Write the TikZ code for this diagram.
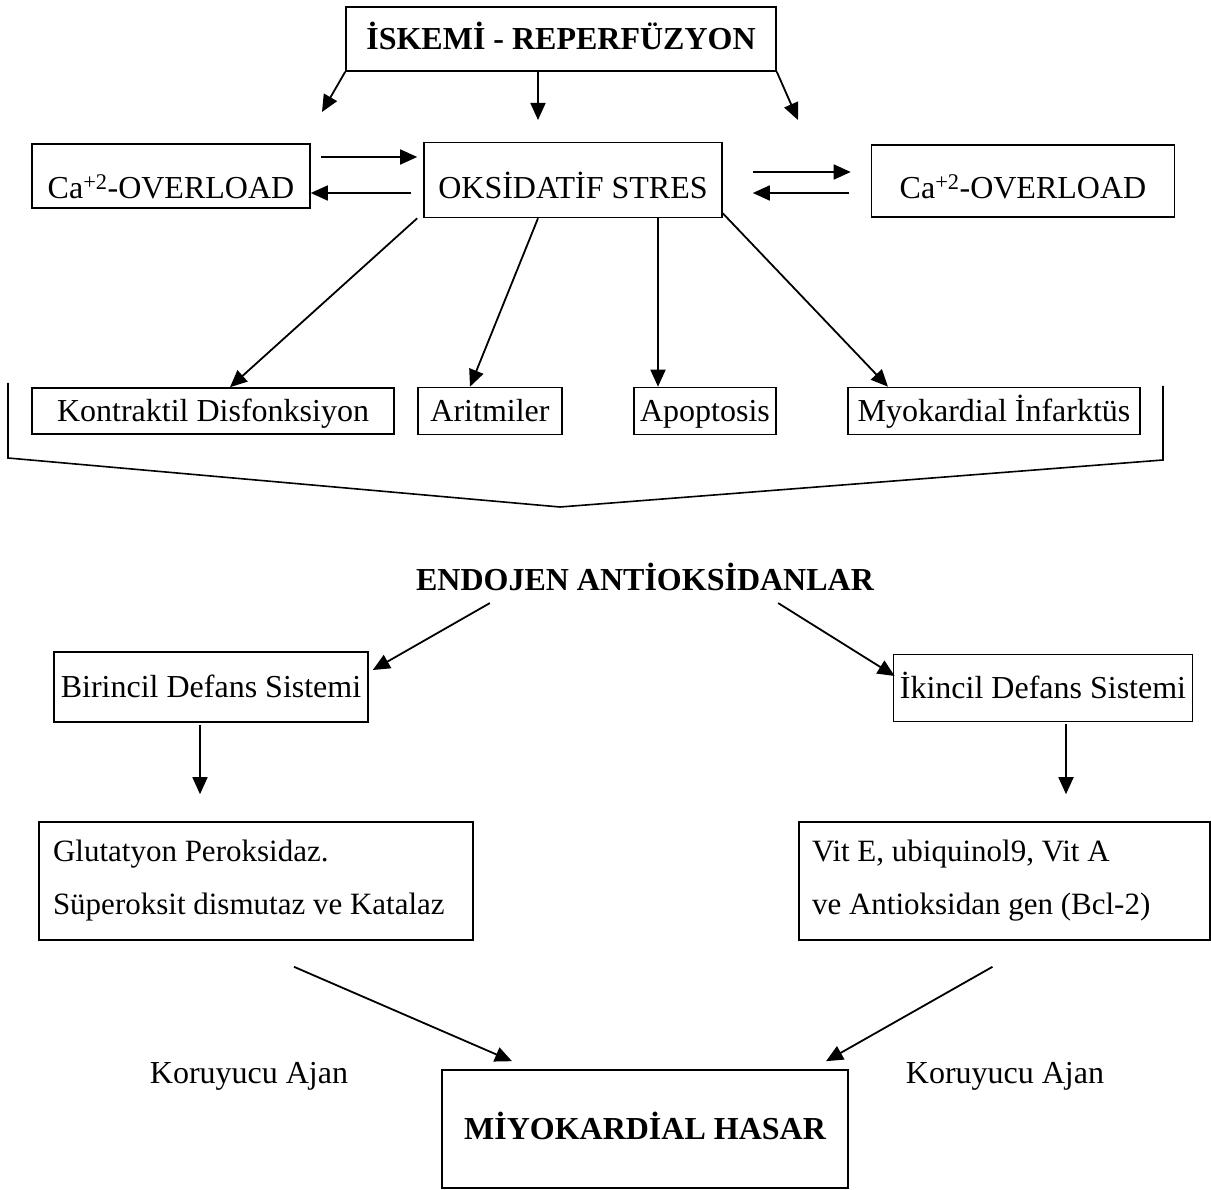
\documentclass[tikz,border=0pt]{standalone}
\usepackage{fontspec}
\setmainfont{Liberation Serif}
\usetikzlibrary{arrows.meta}

\tikzset{
	box/.style={draw, line width=1.6pt, inner sep=0pt, font=\fontsize{32}{38}\selectfont},
	sbox/.style={box, text height=25pt, text depth=4pt},
	tbox/.style={box, text depth=0pt, text height=#1},
	mbox/.style={box, minimum height=118pt, align=flush left, font=\fontsize{31}{53}\selectfont},
	txt/.style={inner sep=0pt, font=\fontsize{32}{38}\selectfont},
	arr/.style={-{Triangle[length=17pt,width=15pt]}, line width=1.8pt},
}

\begin{document}
\begin{tikzpicture}[x=1pt, y=-1pt]
		\useasboundingbox (0,0) rectangle (1211,1190);
		
		%Top
		\node[sbox, minimum width=430pt, minimum height=64pt, font=\fontsize{32}{38}\selectfont\bfseries] (isk) at (561,39) {İSKEMİ - REPERFÜZYON};
		\coordinate (t1) at (322,112);
		\coordinate (t2) at (538,120);
		\coordinate (t3) at (798,120);
		\draw[arr] (isk.south west) -- (t1);
		\draw[arr] ([xshift=-23pt]isk.south) -- (t2);
		\draw[arr] (isk.south east) -- (t3);
		
		%Second row
		\node[tbox=46pt, minimum width=278pt, minimum height=64pt] (cal) at (171,176) {Ca\textsuperscript{+2}-OVERLOAD};
		\node[tbox=37pt, minimum width=298pt, minimum height=75pt] (oks) at (573,180) {OKSİDATİF STRES};
		\node[tbox=36pt, minimum width=303pt, minimum height=72pt] (car) at (1023,181) {Ca\textsuperscript{+2}-OVERLOAD};
		
		\draw[arr] ([xshift=10pt,yshift=19pt]cal.east) -- ([xshift=-6pt,yshift=23pt]oks.west);
		\draw[arr] ([xshift=-12pt,yshift=-13pt]oks.west) -- ([xshift=0pt,yshift=-17pt]cal.east);
		\draw[arr] ([xshift=30pt,yshift=8pt]oks.east) -- ([xshift=-20pt,yshift=9pt]car.west);
		\draw[arr] ([xshift=-22pt,yshift=-12pt]car.west) -- ([xshift=30pt,yshift=-13pt]oks.east);
		
		%Third row
		\node[sbox, minimum width=362pt, minimum height=46pt] (kon) at (213,411) {Kontraktil Disfonksiyon};
		\node[sbox, minimum width=144pt, minimum height=47pt] (ari) at (490,411) {Aritmiler};
		\node[sbox, minimum width=142pt, minimum height=47pt] (apo) at (705,411) {Apoptosis};
		\node[sbox, minimum width=292pt, minimum height=47pt] (myo) at (994,411) {Myokardial İnfarktüs};
		
		\draw[arr] ([xshift=-6pt]oks.south west) -- ([xshift=17pt]kon.north);
		\draw[arr] ([xshift=-35pt]oks.south) -- ([xshift=-20pt]ari.north);
		\draw[arr] ([xshift=85pt]oks.south) -- ([xshift=85pt]oks.south |- apo.north);
		\draw[arr] ([yshift=5pt]oks.south east) -- ([xshift=-106pt]myo.north);
		
		%Bracket
		\coordinate (tip) at (560,507);
		\draw[line width=1.6pt] (8,383) -- (8,458) -- (tip) -- (1163,460) -- (1163,386);
		
		%Endojen
		\node[txt, font=\fontsize{32}{38}\selectfont\bfseries] (endo) at (645,577) {ENDOJEN ANTİOKSİDANLAR};
		\node[sbox, minimum width=314pt, minimum height=70pt] (bir) at (211,687) {Birincil Defans Sistemi};
		\node[sbox, minimum width=299pt, minimum height=67pt] (iki) at (1043,688) {İkincil Defans Sistemi};
		
		\draw[arr] ([xshift=74pt,yshift=-12pt]endo.south west) -- ([xshift=4pt,yshift=17pt]bir.east);
		\draw[arr] ([xshift=-96pt,yshift=-12pt]endo.south east) -- ([xshift=2pt,yshift=12pt]iki.west);
		
		%Defans
		\node[mbox, minimum width=434pt, text width=406pt] (glu) at (256,881) {Glutatyon Peroksidaz.\\Süperoksit dismutaz ve Katalaz};
		\node[mbox, minimum width=411pt, text width=385pt] (vit) at (1004.5,881) {Vit E, ubiquinol9, Vit A\\ve Antioksidan gen (Bcl-2)};
		
		\draw[arr] ([xshift=-11pt,yshift=-2pt]bir.south) -- ([xshift=-11pt,yshift=27pt]bir.south |- glu.north);
		\draw[arr] ([xshift=23pt,yshift=-2pt]iki.south) -- ([xshift=23pt,yshift=27pt]iki.south |- vit.north);
		
		%Bottom
		\node[sbox, minimum width=406pt, minimum height=118pt, font=\fontsize{32}{38}\selectfont\bfseries] (mhs) at (645,1129) {MİYOKARDİAL HASAR};
		\node[txt] (kor1) at (249,1076) {Koruyucu Ajan};
		\node[txt] (kor2) at (1005,1076) {Koruyucu Ajan};
		
		\draw[arr] ([xshift=38pt,yshift=-26pt]glu.south) -- ([xshift=-133pt,yshift=8pt]mhs.north);
		\draw[arr] ([xshift=-12pt,yshift=-26pt]vit.south) -- ([xshift=181pt,yshift=8pt]mhs.north);
	\end{tikzpicture}
\end{document}
